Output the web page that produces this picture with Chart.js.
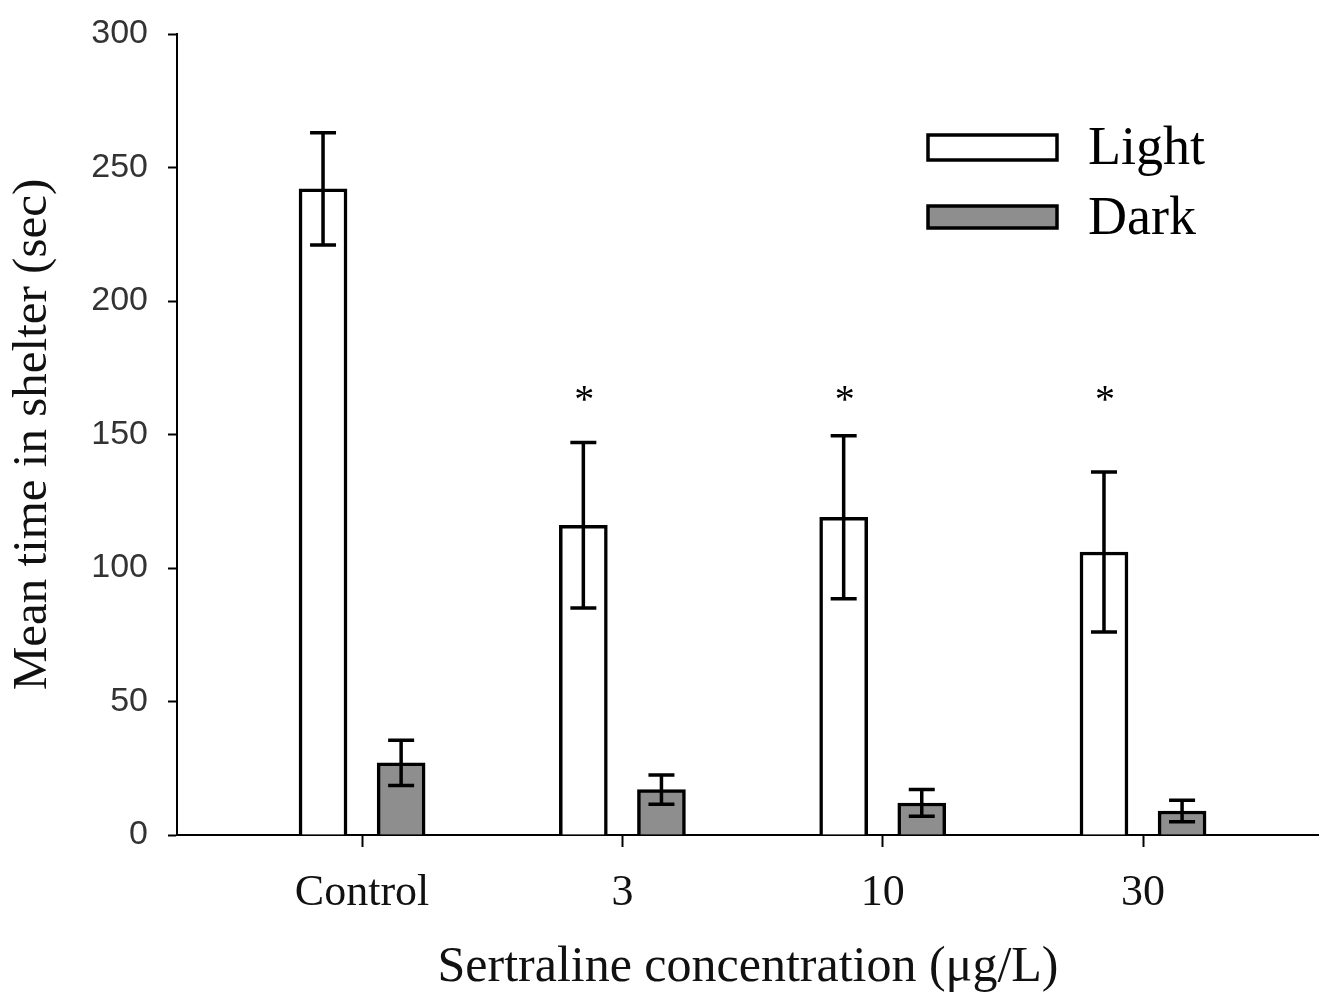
<!DOCTYPE html>
<html>
<head>
<meta charset="utf-8">
<script src="https://cdn.jsdelivr.net/npm/chart.js@4/dist/chart.umd.min.js"></script>
<style>
body{margin:0;background:#fff;}
canvas{display:block;}
</style>
</head>
<body>
<canvas id="grafico" width="1319" height="994"></canvas>
<script>
const categorias = ["Control", "3", "10", "30"];
const claro = [242, 116, 119, 106];
const claroErro = [21, 31, 30.5, 30];
const escuro = [27, 17, 12, 9];
const escuroErro = [8.5, 5.5, 5, 4];
const marcas = ["", "*", "*", "*"];
const nivelMarca = 164;
const ticksY = [0, 50, 100, 150, 200, 250, 300];

const desloc = 0.15;
const serif = "'Liberation Serif', 'Times New Roman', serif";

const pontos = (vals, d) => vals.map((v, i) => ({x: i + 1 + d, y: v}));

const erros = [claroErro, escuroErro];

const pluginErros = {
id: "erros",
afterDatasetsDraw(chart) {
const ctx = chart.ctx;
const y = chart.scales.y;
ctx.save();
ctx.strokeStyle = "#000";
ctx.lineWidth = 3.5;
chart.data.datasets.forEach((ds, di) => {
const meta = chart.getDatasetMeta(di);
meta.data.forEach((bar, i) => {
const v = ds.data[i].y;
const e = erros[di][i];
const yt = y.getPixelForValue(v + e);
const yb = y.getPixelForValue(v - e);
const x = bar.x;
ctx.beginPath();
ctx.moveTo(x, yt); ctx.lineTo(x, yb);
ctx.moveTo(x - 13, yt); ctx.lineTo(x + 13, yt);
ctx.moveTo(x - 13, yb); ctx.lineTo(x + 13, yb);
ctx.stroke();
});
});
// asteriscos
const xs = chart.scales.x;
ctx.fillStyle = "#000";
ctx.font = "40px " + serif;
ctx.textAlign = "center";
ctx.textBaseline = "middle";
marcas.forEach((m, i) => {
if (!m) return;
ctx.fillText(m, xs.getPixelForValue(i + 1 - desloc) + 1, y.getPixelForValue(nivelMarca) + 4);
});
// legenda
chart.data.datasets.forEach((ds, di) => {
const top = di === 0 ? 135 : 206;
const h = di === 0 ? 25 : 22;
ctx.fillStyle = ds.backgroundColor;
ctx.fillRect(928, top, 129, h);
ctx.lineWidth = 3.5;
ctx.strokeStyle = "#000";
ctx.strokeRect(928, top, 129, h);
ctx.fillStyle = "#000";
ctx.font = "54px " + serif;
ctx.textAlign = "left";
ctx.textBaseline = "alphabetic";
ctx.fillText(ds.label, 1088, di === 0 ? 164 : 234);
});
ctx.restore();
}
};

new Chart(
document.getElementById("grafico"),
{
type: "bar",
data: {
datasets: [
{
label: "Light",
data: pontos(claro, -desloc),
backgroundColor: "#ffffff",
borderColor: "#000",
borderWidth: 3.5,
barThickness: 48,
grouped: false
},
{
label: "Dark",
data: pontos(escuro, desloc),
backgroundColor: "#8e8e8e",
borderColor: "#000",
borderWidth: 3.5,
barThickness: 48,
grouped: false
}
]
},
options: {
responsive: false,
animation: false,
events: [],
layout: {padding: {top: 34, right: 0, left: 0, bottom: 0}},
plugins: {
legend: {display: false},
tooltip: {enabled: false}
},
scales: {
x: {
type: "linear",
offset: false,
min: 0.289,
max: 4.676,
afterBuildTicks: s => { s.ticks = categorias.map((c, i) => ({value: i + 1})); },
afterFit: s => { s.height = 159; s.paddingLeft = 0; s.paddingRight = 0; },
ticks: {
callback: (v) => categorias[v - 1] ?? "",
font: {family: serif, size: 44},
color: "#111",
padding: 20,
maxRotation: 0,
autoSkip: false
},
grid: {
offset: false,
drawOnChartArea: false,
drawTicks: true,
tickLength: 12,
tickWidth: 2,
tickColor: "#000"
},
border: {display: true, color: "#000", width: 2},
title: {
display: true,
text: "Sertraline concentration (\u03bcg/L)",
font: {family: serif, size: 50, lineHeight: 1.0},
color: "#111",
padding: {top: 24, bottom: 1}
}
},
y: {
min: 0,
max: 300,
afterBuildTicks: s => { s.ticks = ticksY.map(v => ({value: v})); },
afterFit: s => { s.width = 177; s.paddingTop = 0; s.paddingBottom = 0; },
ticks: {
font: {family: "'Liberation Sans', Arial, sans-serif", size: 34},
color: "#333",
padding: 20
},
grid: {
drawOnChartArea: false,
drawTicks: true,
tickLength: 9,
tickWidth: 2,
tickColor: "#000"
},
border: {display: true, color: "#000", width: 2},
title: {
display: true,
text: "Mean time in shelter (sec)",
font: {family: serif, size: 49},
color: "#111",
padding: {bottom: 0}
}
}
}
},
plugins: [pluginErros]
}
);
</script>
</body>
</html>
